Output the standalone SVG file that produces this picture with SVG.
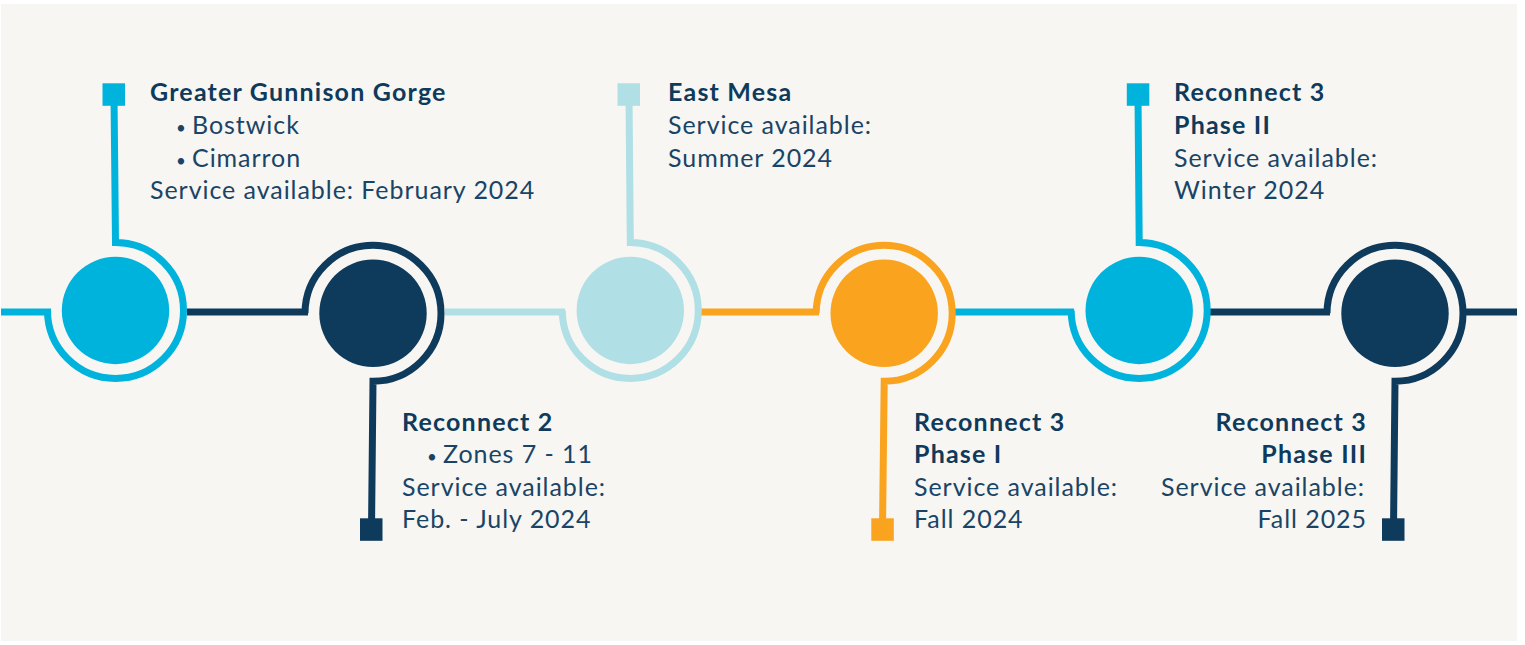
<svg xmlns="http://www.w3.org/2000/svg" width="1525" height="645" viewBox="0 0 1525 645">
  <style>
    .ring { fill: none; stroke-width: 7; stroke-linejoin: miter; stroke-linecap: butt; }
    .link { fill: none; stroke-width: 7; stroke-linecap: butt; }
    .cyan { stroke: #00B3DC; }
    .navy { stroke: #0E3A5C; }
    .pale { stroke: #B0DFE6; }
    .amber { stroke: #F9A31E; }
    .f-cyan { fill: #00B3DC; }
    .f-navy { fill: #0E3A5C; }
    .f-pale { fill: #B0DFE6; }
    .f-amber { fill: #F9A31E; }
    text { font-family: Lato, "Liberation Sans", sans-serif; font-size: 25px; font-weight: 400; letter-spacing: 0.95px; fill: #1A4466; }
    .title { font-weight: 700; letter-spacing: 1.2px; fill: #0E3A5C; }
    .end { text-anchor: end; }
    .dot { font-size: 17px; }
  </style>

  <rect x="1" y="4" width="1516" height="637" fill="#F7F6F2"/>

  <!-- horizontal track segments between milestones -->
  <g id="connectors">
    <line class="link cyan" x1="1" y1="312" x2="51" y2="312"/>
    <line class="link navy" x1="187" y1="312" x2="308" y2="312"/>
    <line class="link pale" x1="445" y1="312" x2="565" y2="312"/>
    <line class="link amber" x1="698" y1="312" x2="819" y2="312"/>
    <line class="link cyan" x1="955" y1="312" x2="1074" y2="312"/>
    <line class="link navy" x1="1208" y1="312" x2="1330" y2="312"/>
    <line class="link navy" x1="1466" y1="312" x2="1517" y2="312"/>
  </g>

  <!-- milestone 1 -->
  <g id="node-gunnison">
    <path class="ring cyan" d="M47.5 310.5 A68 68 0 1 0 115.5 242.5 L114 95"/>
    <rect class="f-cyan" x="102.5" y="83.3" width="22.5" height="22.5"/>
    <circle class="f-cyan" cx="115.5" cy="310.5" r="53.7"/>
    <text class="title" x="150" y="100.7">Greater Gunnison Gorge</text>
    <text y="134"><tspan class="dot" x="176">•</tspan> <tspan x="192">Bostwick</tspan></text>
    <text y="166.7"><tspan class="dot" x="176">•</tspan> <tspan x="192">Cimarron</tspan></text>
    <text x="150" y="199">Service available: February 2024</text>
  </g>

  <!-- milestone 2 -->
  <g id="node-reconnect2">
    <path class="ring navy" d="M305 313.3 A68 68 0 1 1 373 381.3 L371.5 529"/>
    <rect class="f-navy" x="360" y="518.3" width="22.5" height="22.5"/>
    <circle class="f-navy" cx="373" cy="313.3" r="53.7"/>
    <text class="title" x="402" y="430.7">Reconnect 2</text>
    <text y="463.3"><tspan class="dot" x="427">•</tspan> <tspan x="443">Zones 7 - 11</tspan></text>
    <text x="402" y="495.5">Service available:</text>
    <text x="402" y="528.3">Feb. - July 2024</text>
  </g>

  <!-- milestone 3 -->
  <g id="node-eastmesa">
    <path class="ring pale" d="M562.3 310.5 A68 68 0 1 0 630.3 242.5 L629 95"/>
    <rect class="f-pale" x="617.5" y="83.3" width="22.5" height="22.5"/>
    <circle class="f-pale" cx="630.3" cy="310.5" r="53.7"/>
    <text class="title" x="668" y="100.7">East Mesa</text>
    <text x="668" y="134">Service available:</text>
    <text x="668" y="166.7">Summer 2024</text>
  </g>

  <!-- milestone 4 -->
  <g id="node-reconnect3-phase1">
    <path class="ring amber" d="M816.2 313.3 A68 68 0 1 1 884.2 381.3 L882.5 529"/>
    <rect class="f-amber" x="871.3" y="518.3" width="22.5" height="22.5"/>
    <circle class="f-amber" cx="884.2" cy="313.3" r="53.7"/>
    <text class="title" x="914" y="430.7">Reconnect 3</text>
    <text class="title" x="914" y="463.3">Phase I</text>
    <text x="914" y="495.5">Service available:</text>
    <text x="914" y="528.3">Fall 2024</text>
  </g>

  <!-- milestone 5 -->
  <g id="node-reconnect3-phase2">
    <path class="ring cyan" d="M1071.2 310.5 A68 68 0 1 0 1139.2 242.5 L1138 95"/>
    <rect class="f-cyan" x="1126.8" y="83.3" width="22.5" height="22.5"/>
    <circle class="f-cyan" cx="1139.2" cy="310.5" r="53.7"/>
    <text class="title" x="1174" y="100.7">Reconnect 3</text>
    <text class="title" x="1174" y="134">Phase II</text>
    <text x="1174" y="166.7">Service available:</text>
    <text x="1174" y="199">Winter 2024</text>
  </g>

  <!-- milestone 6 -->
  <g id="node-reconnect3-phase3">
    <path class="ring navy" d="M1327 313.3 A68 68 0 1 1 1395 381.3 L1393.5 529"/>
    <rect class="f-navy" x="1382" y="518.3" width="22.5" height="22.5"/>
    <circle class="f-navy" cx="1395" cy="313.3" r="53.7"/>
    <text class="title end" x="1367" y="430.7">Reconnect 3</text>
    <text class="title end" x="1367" y="463.3">Phase III</text>
    <text class="end" x="1365" y="495.5">Service available:</text>
    <text class="end" x="1367" y="528.3">Fall 2025</text>
  </g>
</svg>
